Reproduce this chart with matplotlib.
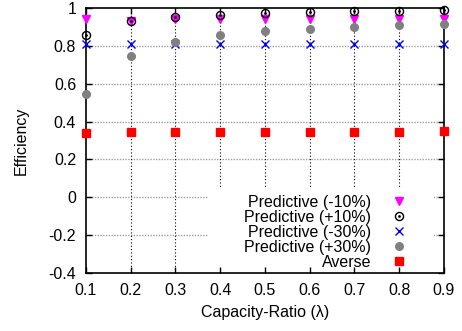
import matplotlib
matplotlib.use("Agg")
import matplotlib.pyplot as plt
from matplotlib.patches import Rectangle

plt.rcParams['font.family'] = ['Liberation Sans', 'DejaVu Sans']
plt.rcParams['font.size'] = 11.5

capacity_ratio = [0.1, 0.2, 0.3, 0.4, 0.5, 0.6, 0.7, 0.8, 0.9]
pred_minus10 = [0.942, 0.930, 0.942, 0.938, 0.940, 0.940, 0.940, 0.940, 0.940]
pred_plus10 = [0.857, 0.930, 0.950, 0.963, 0.974, 0.977, 0.980, 0.980, 0.985]
pred_minus30 = [0.810, 0.810, 0.810, 0.810, 0.810, 0.810, 0.810, 0.810, 0.810]
pred_plus30 = [0.545, 0.746, 0.820, 0.854, 0.875, 0.889, 0.900, 0.910, 0.914]
averse = [0.338, 0.343, 0.343, 0.343, 0.343, 0.343, 0.343, 0.343, 0.350]

x_ticks = [0.1, 0.2, 0.3, 0.4, 0.5, 0.6, 0.7, 0.8, 0.9]
y_ticks = [-0.4, -0.2, 0, 0.2, 0.4, 0.6, 0.8, 1]
y_tick_labels = ['-0.4', '-0.2', '0', '0.2', '0.4', '0.6', '0.8', '1']

fig = plt.figure(figsize=(4.62, 3.31), dpi=100)
ax = fig.add_axes([0.186, 0.174, 0.775, 0.803])
ax.set_xlim(0.1, 0.9)
ax.set_ylim(-0.4, 1)

# gnuplot-like grid: gray dotted horizontals, black dotted verticals
for y in y_ticks[1:-1]:
    ax.axhline(y, color='#a0a0a0', linestyle=(0, (1, 1)), linewidth=1, zorder=1)
for x in x_ticks[1:-1]:
    ax.axvline(x, color='black', linestyle=(0, (1, 2)), linewidth=0.8, zorder=1)

# white key box hides the grid behind the legend
ax.add_patch(Rectangle((0.341, 0), 0.631, 0.321, transform=ax.transAxes,
                       facecolor='white', edgecolor='none', zorder=1.8))

kw = dict(linestyle='none', clip_on=False, zorder=3)
h1, = ax.plot(capacity_ratio, pred_minus10, marker='v', color='#ff00ff', markersize=5.5, **kw)
h2a, = ax.plot(capacity_ratio, pred_plus10, marker='o', markerfacecolor='none',
               markeredgecolor='black', markersize=5.8, markeredgewidth=1, **kw)
h2b, = ax.plot(capacity_ratio, pred_plus10, marker='.', color='black', markersize=2, **kw)
h3, = ax.plot(capacity_ratio, pred_minus30, marker='x', color='#0000ff', markersize=5.5,
              markeredgewidth=1, **kw)
h4, = ax.plot(capacity_ratio, pred_plus30, marker='o', color='#808080', markersize=5.5, **kw)
h5, = ax.plot(capacity_ratio, averse, marker='s', color='#ff0000', markersize=5.8, **kw)

leg = ax.legend([h1, (h2a, h2b), h3, h4, h5],
                ['Predictive (-10%)', 'Predictive (+10%)', 'Predictive (-30%)',
                 'Predictive (+30%)', 'Averse'],
                loc='lower right', bbox_to_anchor=(0.909, 0.013), frameon=False,
                markerfirst=False, handlelength=1.5, handletextpad=1.0,
                labelspacing=0.0, borderpad=0, borderaxespad=0, fontsize=11.5)
leg.set_zorder(4)

ax.set_xticks(x_ticks)
ax.set_xticklabels([f"{v:.1f}" for v in x_ticks])
ax.set_yticks(y_ticks)
ax.set_yticklabels(y_tick_labels)
ax.tick_params(direction='in', length=4, width=1, top=True, right=True, pad=7)
ax.set_axisbelow(False)
for s in ax.spines.values():
    s.set_linewidth(1.2)

ax.set_xlabel('Capacity-Ratio (λ)', labelpad=5)
ax.set_ylabel('Efficiency', labelpad=14)

fig.savefig('out.png', dpi=100)
